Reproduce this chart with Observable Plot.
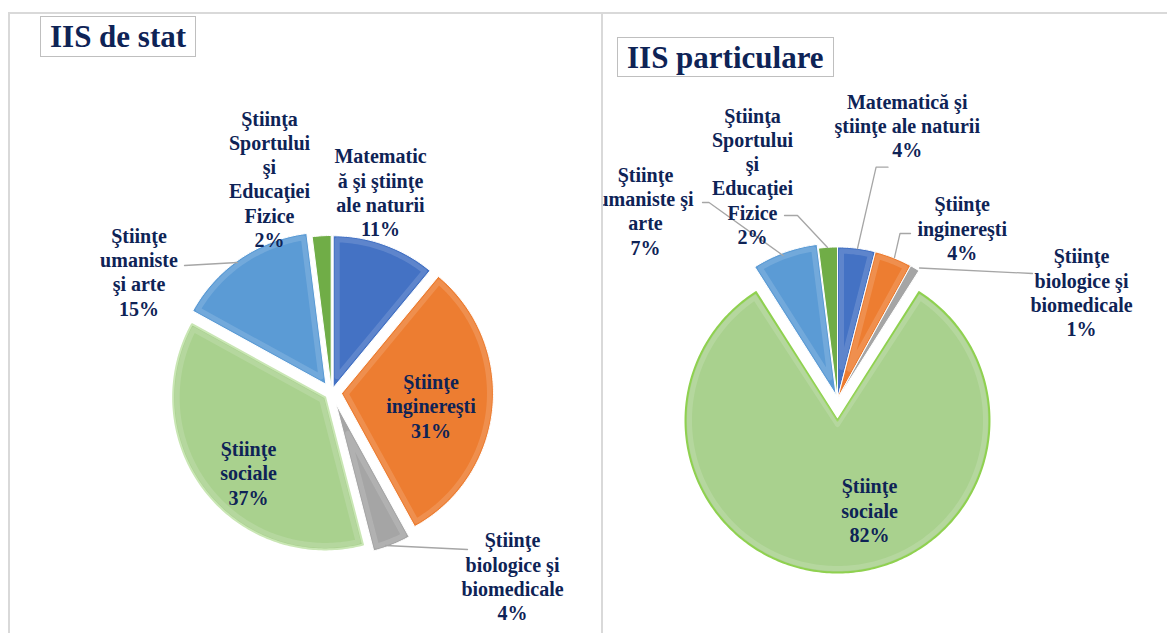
<!DOCTYPE html>
<html>
<head>
<meta charset="utf-8">
<script src="https://cdn.jsdelivr.net/npm/d3@7"></script>
<script src="https://cdn.jsdelivr.net/npm/@observablehq/plot@0.6"></script>
<style>
  html, body { margin: 0; padding: 0; background: #fff; }
  #page { position: relative; width: 1167px; height: 633px; overflow: hidden; background: #fff; }
  .panel { position: absolute; top: 0; height: 633px; overflow: hidden; }
  .rule { position: absolute; background: #d9d9d9; z-index: 5; }
  .title { position: absolute; box-sizing: border-box; border: 1px solid #bfbfbf; background: #fff;
           font-family: 'Liberation Serif', 'Times New Roman', serif; font-weight: bold; font-size: 31px;
           line-height: 39px; color: #0e2356; padding-left: 9px; white-space: nowrap; z-index: 6; }
  .panel svg text { font-family: 'Liberation Serif', 'Times New Roman', serif; }
</style>
</head>
<body>
<div id="page">
  <div class="panel" id="left" style="left:0;width:601px;"></div>
  <div class="panel" id="right" style="left:603px;width:564px;"></div>
  <div class="rule" style="left:8px;top:12px;width:1159px;height:2px;"></div>
  <div class="rule" style="left:8px;top:12px;width:2px;height:621px;"></div>
  <div class="rule" style="left:601px;top:12px;width:2px;height:621px;"></div>
  <div class="title" style="left:40px;top:16px;width:156px;height:41px;">IIS de stat</div>
  <div class="title" style="left:617px;top:37px;width:217px;height:40px;">IIS particulare</div>
</div>
<script>
// ---- data ----
const categories = [
  "Matematică şi ştiinţe ale naturii",
  "Ştiinţe inginereşti",
  "Ştiinţe biologice şi biomedicale",
  "Ştiinţe sociale",
  "Ştiinţe umaniste şi arte",
  "Ştiinţa Sportului şi Educaţiei Fizice"
];
const valuesStat = [11, 31, 4, 37, 15, 2];
const valuesPart = [4, 4, 1, 82, 7, 2];
const colors = ["#4472C4", "#ED7D31", "#A5A5A5", "#A9D18E", "#5B9BD5", "#70AD47"];
const labelsStat = [
  "Matematic\nă şi ştiinţe\nale naturii",
  "Ştiinţe\ninginereşti",
  "Ştiinţe\nbiologice şi\nbiomedicale",
  "Ştiinţe\nsociale",
  "Ştiinţe\numaniste\nşi arte",
  "Ştiinţa\nSportului\nşi\nEducaţiei\nFizice"
];
const labelsPart = [
  "Matematică şi\nştiinţe ale naturii",
  "Ştiinţe\ninginereşti",
  "Ştiinţe\nbiologice şi\nbiomedicale",
  "Ştiinţe\nsociale",
  "Ştiinţe\numaniste şi\narte",
  "Ştiinţa\nSportului\nşi\nEducaţiei\nFizice"
];

// ---- layout (page pixel coordinates) ----
const layoutStat = {
  cx: 331, cy: 392, r: 152,
  explode: [5, 10, 12, 8, 10, 5],
  labelPos: [[380, 191.5], [430.5, 405], [512, 575.5], [248, 472], [138.5, 271], [269, 178]],
  leaders: [
    [[184, 265], [237, 262]],
    [[385, 545], [467, 549]]
  ]
};
const layoutPart = {
  cx: 837, cy: 398.5, r: 152,
  explode: [0, 0, 0, 21.5, 4, 0],
  labelPos: [[906.7, 124.7], [961.7, 227.5], [1081, 291.5], [869, 509.5], [645, 210], [752, 175]],
  leaders: [
    [[702, 202], [708.5, 202], [782.6, 255]],
    [[784, 215], [797, 215], [827, 247]],
    [[887.5, 166.7], [875.6, 166.7], [857, 248]],
    [[910, 233], [899.5, 233], [894, 257]],
    [[919, 267.5], [1032, 273]]
  ]
};

const navy = "#0e2356";
const serif = "'Liberation Serif', 'Times New Roman', serif";

// polygon of a (possibly exploded) slice; inset > 0 shrinks it for a bevel rim
function slicePoints(values, L, inset) {
  const total = d3.sum(values);
  const pts = [];
  let a = 0;
  values.forEach((v, i) => {
    const a0 = a, a1 = a + v / total * 2 * Math.PI;
    a = a1;
    const mid = (a0 + a1) / 2;
    const ox = L.cx + L.explode[i] * Math.sin(mid);
    const oy = L.cy - L.explode[i] * Math.cos(mid);
    const cat = categories[i];
    const r = L.r - inset;
    const half = (a1 - a0) / 2;
    const apexShift = inset > 0 ? Math.min(inset / Math.max(Math.sin(Math.min(half, Math.PI / 2)), 0.05), r * 0.5) : 0;
    const ax = ox + apexShift * Math.sin(mid), ay = oy - apexShift * Math.cos(mid);
    const da = inset > 0 ? Math.min(inset / r, half * 0.4) : 0;
    pts.push({cat, x: ax, y: ay});
    const b0 = a0 + da, b1 = a1 - da;
    const n = Math.max(2, Math.ceil((b1 - b0) / (Math.PI / 180)));
    for (let k = 0; k <= n; k++) {
      const t = b0 + (b1 - b0) * k / n;
      pts.push({cat, x: ox + r * Math.sin(t), y: oy - r * Math.cos(t)});
    }
    pts.push({cat, x: ax, y: ay});
  });
  return pts;
}

function chart(values, labels, L, x0, w, socialStroke) {
  const pts = slicePoints(values, L, 0);
  const rim = slicePoints(values, L, 4).filter(d => {
    const i = categories.indexOf(d.cat);
    return values[i] >= 3;
  });
  const labelData = values.map((v, i) => ({
    x: L.labelPos[i][0], y: L.labelPos[i][1], text: labels[i] + "\n" + v + "%"
  }));
  const leaderData = L.leaders.flatMap((seg, j) => seg.map(p => ({id: j, x: p[0], y: p[1]})));
  return Plot.plot({
    width: w, height: 633,
    margin: 0,
    style: {background: "transparent", overflow: "hidden"},
    x: {domain: [x0, x0 + w], range: [0, w], axis: null},
    y: {domain: [0, 633], range: [0, 633], axis: null},
    color: {domain: categories, range: colors},
    marks: [
      Plot.line(pts, {x: "x", y: "y", z: "cat", fill: "cat",
        stroke: d => d.cat === categories[3] ? socialStroke : "#ffffff",
        strokeWidth: d => d.cat === categories[3] ? 2 : 1, curve: "linear"}),
      Plot.line(rim, {x: "x", y: "y", z: "cat", stroke: "#ffffff", strokeOpacity: 0.14,
        strokeWidth: 5, curve: "linear"}),
      Plot.line(leaderData, {x: "x", y: "y", z: "id", stroke: "#a6a6a6", strokeWidth: 1.3}),
      Plot.text(labelData, {x: "x", y: "y", text: "text", fill: navy, fontSize: 20, fontWeight: "bold",
        fontFamily: serif, lineHeight: 1.215, textAnchor: "middle", lineAnchor: "middle"})
    ]
  });
}

document.getElementById("left").appendChild(chart(valuesStat, labelsStat, layoutStat, 0, 601, "#c9e6b4"));
document.getElementById("right").appendChild(chart(valuesPart, labelsPart, layoutPart, 603, 564, "#8fd14f"));
</script>
</body>
</html>
